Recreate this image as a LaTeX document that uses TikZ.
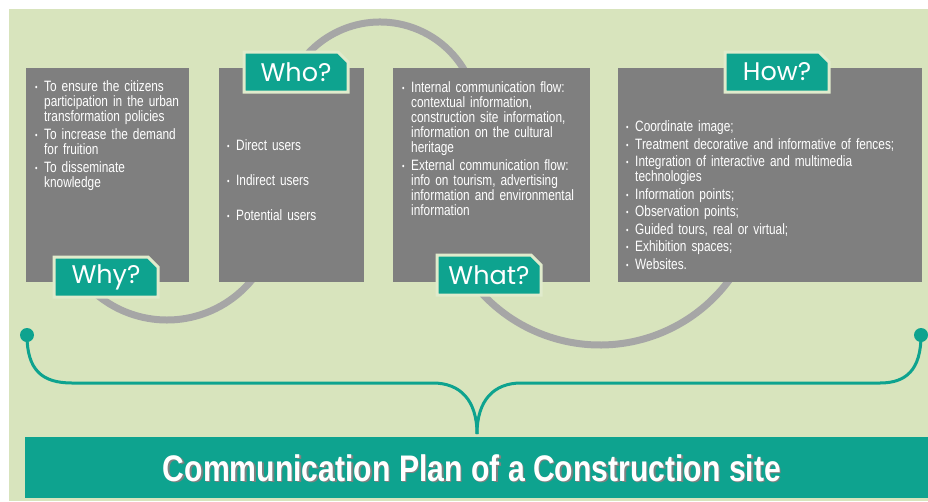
\documentclass[tikz,border=0pt]{standalone}
\usepackage{fontspec}
\setmainfont{Liberation Sans}
\newfontfamily\narrowfont[FakeStretch=0.79]{Liberation Sans}
\newfontfamily\titlefont[FakeStretch=0.815]{Liberation Sans}
\newfontfamily\tagfont{Poppins}
\usetikzlibrary{positioning,shapes.misc}
\definecolor{cpgreen}{RGB}{216,228,189}
\definecolor{cpedge}{RGB}{224,235,204}
\definecolor{cpgray}{RGB}{127,127,127}
\definecolor{cparc}{RGB}{166,166,166}
\definecolor{cpteal}{RGB}{14,163,143}
\newcommand{\pitem}[1]{\par\hangindent=9pt\hangafter=1\noindent\makebox[9pt][l]{\raisebox{1pt}{\fontsize{9}{9}\selectfont\textbullet}}#1\par}
\tikzset{
  panel/.style={fill=cpgray, inner sep=0pt, minimum height=214pt},
  tag/.style={chamfered rectangle, chamfered rectangle corners=north east,
    chamfered rectangle xsep=5pt, chamfered rectangle ysep=5pt,
    fill=cpteal, draw=cpedge, line width=3pt, minimum width=104pt, minimum height=40pt,
    inner sep=0pt, text=white, font=\tagfont\fontsize{25.5}{25.5}\selectfont},
  ring/.style={draw=cparc, line width=7pt},
  bracket/.style={draw=cpteal, line width=3pt},
  knob/.style={circle, fill=cpteal, minimum size=14pt, inner sep=0pt},
  listtext/.style={anchor=north west, inner sep=0pt, text=white, align=left,
    font=\narrowfont\fontsize{15}{15}\selectfont\setlength{\parskip}{#1}},
  titletext/.style={inner sep=0pt, font=\titlefont\bfseries\fontsize{37}{37}\selectfont}
}
\begin{document}
\begin{tikzpicture}[x=1pt, y=-1pt]
  \useasboundingbox (0,0) rectangle (928,501);
  \fill[cpgreen] (9,9) rectangle (928,501);
  \coordinate (upc) at (380,120);
  \coordinate (lowc) at (167,210);
  \coordinate (midc) at (600,184);
  \draw[ring] (upc) ++(200:98) arc[start angle=200, end angle=340, radius=98];
  \draw[ring] (lowc) ++(135:110) arc[start angle=135, end angle=30, radius=110];
  \draw[ring] (midc) ++(140:161) arc[start angle=140, end angle=30, radius=161];
  \node[panel, minimum width=163pt, anchor=north west] (whybox) at (26,68) {};
  \node[panel, minimum width=145pt, right=29pt of whybox] (whobox) {};
  \node[panel, minimum width=197pt, right=29pt of whobox] (whatbox) {};
  \node[panel, minimum width=304pt, right=28pt of whatbox] (howbox) {};
  \node[tag] (whytag) at (106,277) {Why?};
  \node[tag] (whotag) at (296,72) {Who?};
  \node[tag] (whattag) at (489,275) {What?};
  \node[tag] (howtag) at (777,72) {How?};
  \node[listtext=3pt, text width=155pt] (whylist) at (35,73) {%
    \pitem{To ensure the citizens\newline participation in the urban\newline transformation policies}
    \pitem{To increase the demand\newline for fruition}
    \pitem{To disseminate\newline knowledge}};
  \node[listtext=20pt, text width=130pt] (wholist) at (227,115) {%
    \pitem{Direct users}
    \pitem{Indirect users}
    \pitem{Potential users}};
  \node[listtext=3pt, text width=185pt] (whatlist) at (402,74) {%
    \pitem{Internal communication flow:\newline contextual information,\newline construction site information,\newline information on the cultural\newline heritage}
    \pitem{External communication flow:\newline info on tourism, advertising\newline information and environmental\newline information}};
  \node[listtext=2.5pt, text width=292pt] (howlist) at (626,114) {%
    \pitem{Coordinate image;}
    \pitem{Treatment decorative and informative of fences;}
    \pitem{Integration of interactive and multimedia\newline technologies}
    \pitem{Information points;}
    \pitem{Observation points;}
    \pitem{Guided tours, real or virtual;}
    \pitem{Exhibition spaces;}
    \pitem{Websites.}};
  \node[knob] (lknob) at (27,335) {};
  \node[knob] (rknob) at (921,335) {};
  \coordinate (tip) at (477,434);
  \draw[bracket] (lknob.center) .. controls (27,370) and (42,383) .. (72,383) -- (433,383)
    .. controls (460,383) and (477,400) .. (tip);
  \draw[bracket] (rknob.center) .. controls (921,370) and (906,383) .. (880,383) -- (521,383)
    .. controls (494,383) and (477,400) .. (tip);
  \node[fill=cpteal, anchor=north west, inner sep=0pt, minimum width=903pt, minimum height=61pt] (bar) at (25,437) {};
  \node[titletext, text=black!50] (titleshade) at (473.5,469.5) {Communication Plan of a Construction site};
  \node[titletext, text=white] (title) at (472,468) {Communication Plan of a Construction site};
\end{tikzpicture}
\end{document}
